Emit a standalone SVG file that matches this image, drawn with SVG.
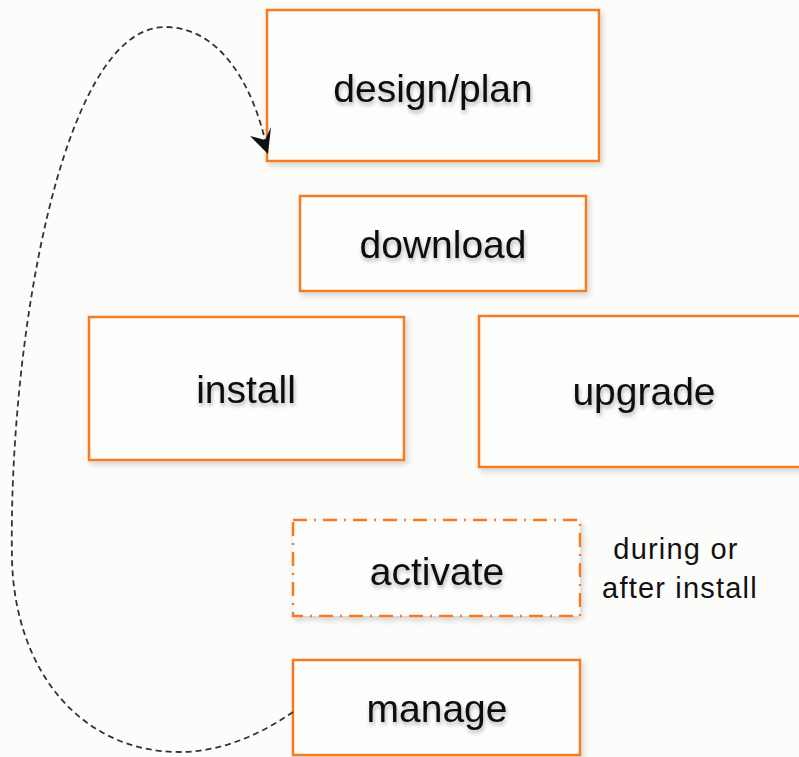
<svg xmlns="http://www.w3.org/2000/svg" width="799" height="757" viewBox="0 0 799 757">
<defs>
<filter id="sh" x="-10%" y="-10%" width="130%" height="130%">
<feGaussianBlur in="SourceAlpha" stdDeviation="3"/>
<feOffset dx="2" dy="3" result="b"/>
<feComponentTransfer><feFuncA type="linear" slope="0.18"/></feComponentTransfer>
<feMerge><feMergeNode/><feMergeNode in="SourceGraphic"/></feMerge>
</filter>
<filter id="tsh" x="-10%" y="-20%" width="130%" height="160%">
<feGaussianBlur in="SourceAlpha" stdDeviation="2"/>
<feOffset dx="1" dy="3" result="b"/>
<feComponentTransfer><feFuncA type="linear" slope="0.3"/></feComponentTransfer>
<feMerge><feMergeNode/><feMergeNode in="SourceGraphic"/></feMerge>
</filter>
</defs>
<style>
.box{fill:#fdfdfb;stroke:#f57b20;stroke-width:2.5;filter:url(#sh)}
.dd{stroke-dasharray:14 7 2 7}
.lbl{font-family:"Liberation Sans",Arial,sans-serif;font-size:39px;fill:#111;text-anchor:middle;filter:url(#tsh)}
.note{font-family:"Liberation Sans",Arial,sans-serif;font-size:29px;letter-spacing:1.2px;fill:#111;text-anchor:middle}
.conn{fill:none;stroke:#333;stroke-width:1.8;stroke-dasharray:6 4}
.head{fill:#111}
</style>
<rect width="799" height="757" fill="#fcfcfa"/>
<g id="design-plan">
<rect class="box" x="267" y="10" width="332" height="151"/>
<text class="lbl" x="433" y="102">design/plan</text>
</g>
<g id="download">
<rect class="box" x="300" y="196" width="286" height="95"/>
<text class="lbl" x="443" y="258">download</text>
</g>
<g id="install">
<rect class="box" x="89" y="317" width="315" height="143"/>
<text class="lbl" x="246" y="403">install</text>
</g>
<g id="upgrade">
<rect class="box" x="479" y="316" width="330" height="151"/>
<text class="lbl" x="644" y="405">upgrade</text>
</g>
<g id="activate">
<rect class="box dd" x="293" y="520" width="287" height="96"/>
<text class="lbl" x="437" y="585">activate</text>
</g>
<g id="manage">
<rect class="box" x="293" y="660" width="287" height="95"/>
<text class="lbl" x="437" y="722">manage</text>
</g>
<g id="note">
<text class="note" x="676" y="559">during or</text>
<text class="note" x="680" y="598">after install</text>
</g>
<g id="connectors">
<path class="conn" d="M293,712 C260,735 220,752 180,752 C80,752 15,670 12,560 C8,350 60,27 165,27 C220,27 252,85 265,140"/>
<path class="head" d="M268,154 L250,136 L265,140 L271,127 Z"/>
</g>
</svg>
